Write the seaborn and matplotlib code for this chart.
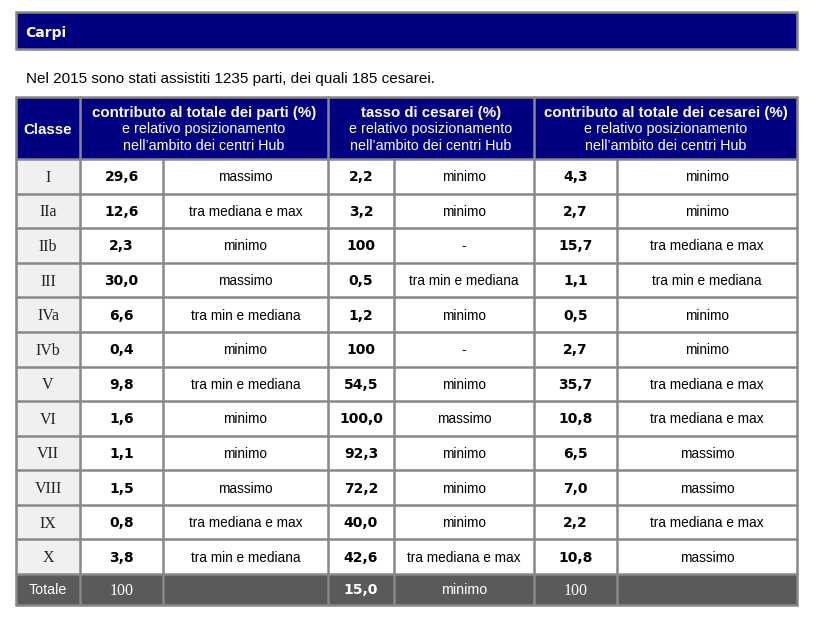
import matplotlib
matplotlib.use("Agg")
import matplotlib.pyplot as plt
import seaborn as sns
from matplotlib.patches import Rectangle

# ---- data ----
titolo = "Carpi"
sottotitolo = "Nel 2015 sono stati assistiti 1235 parti, dei quali 185 cesarei."
intestazioni = [
    "contributo al totale dei parti (%)",
    "tasso di cesarei (%)",
    "contributo al totale dei cesarei (%)",
]
sotto_intestazione = "e relativo posizionamento\nnell\u2019ambito dei centri Hub"
classi = ["I", "IIa", "IIb", "III", "IVa", "IVb", "V", "VI", "VII", "VIII", "IX", "X"]
parti = ["29,6", "12,6", "2,3", "30,0", "6,6", "0,4", "9,8", "1,6", "1,1", "1,5", "0,8", "3,8"]
parti_pos = ["massimo", "tra mediana e max", "minimo", "massimo", "tra min e mediana", "minimo",
             "tra min e mediana", "minimo", "minimo", "massimo", "tra mediana e max", "tra min e mediana"]
tasso = ["2,2", "3,2", "100", "0,5", "1,2", "100", "54,5", "100,0", "92,3", "72,2", "40,0", "42,6"]
tasso_pos = ["minimo", "minimo", "-", "tra min e mediana", "minimo", "-", "minimo", "massimo",
             "minimo", "minimo", "minimo", "tra mediana e max"]
cesarei = ["4,3", "2,7", "15,7", "1,1", "0,5", "2,7", "35,7", "10,8", "6,5", "7,0", "2,2", "10,8"]
cesarei_pos = ["minimo", "minimo", "tra mediana e max", "tra min e mediana", "minimo", "minimo",
               "tra mediana e max", "tra mediana e max", "massimo", "massimo", "tra mediana e max", "massimo"]
totale = ["Totale", "100", "", "15,0", "minimo", "100", ""]

sns.set_style("white")
plt.rcParams['font.family'] = ['DejaVu Sans']

NAVY = "#000080"
GRID = "#888888"
LIGHT = "#f0f0f0"
DARK = "#5a5a5a"
SANS = "Liberation Sans"
BOLD = "DejaVu Sans"
SERIF = "Liberation Serif"

fig = plt.figure(figsize=(8.16, 6.17), dpi=100)
ax = fig.add_axes([0, 0, 1, 1])
ax.set_xlim(0, 816)
ax.set_ylim(617, 0)
ax.axis("off")

# title bar
ax.add_patch(Rectangle((16, 12), 781, 37, facecolor=NAVY, edgecolor=GRID, lw=1.8))
ax.text(25, 31, titolo, color="white", fontsize=10, fontweight="bold", family=BOLD,
        va="center_baseline", ha="left")
ax.text(26, 78, sottotitolo, color="black", fontsize=10.95, family=SANS,
        va="center_baseline", ha="left")

# table geometry
xs = [16, 80, 163, 328, 394, 534, 617, 797]
y_head = 97
y_body = 159
row_h = (574 - 159) / 12
y_end = 605

# header
ax.add_patch(Rectangle((xs[0], y_head), xs[-1] - xs[0], y_body - y_head, facecolor=NAVY, lw=0))
ax.text((xs[0] + xs[1]) / 2, (y_head + y_body) / 2, "Classe", color="white", fontsize=10.8,
        fontweight="bold", family=SANS, ha="center", va="center_baseline")
for k, h in enumerate(intestazioni):
    cx = (xs[1 + 2 * k] + xs[3 + 2 * k]) / 2
    ax.text(cx, y_head + 14.5, h, color="white", fontsize=10.8, fontweight="bold", family=SANS,
            ha="center", va="center_baseline")
    for n, riga in enumerate(sotto_intestazione.split("\n")):
        ax.text(cx, y_head + 31 + 16.5 * n, riga, color="white", fontsize=10.3, family=SANS,
                ha="center", va="center_baseline")

# body rows
colonne = [classi, parti, parti_pos, tasso, tasso_pos, cesarei, cesarei_pos]
for i in range(len(classi)):
    y0 = y_body + i * row_h
    cy = y0 + row_h / 2 - 0.5
    for j, col in enumerate(colonne):
        fc = LIGHT if j == 0 else "white"
        ax.add_patch(Rectangle((xs[j], y0), xs[j + 1] - xs[j], row_h, facecolor=fc, lw=0))
        cx = (xs[j] + xs[j + 1]) / 2
        if j == 0:
            ax.text(cx, cy, col[i], fontsize=11.5, family=SERIF,
                    ha="center", va="center_baseline", color="#222222")
        elif j % 2 == 1:
            ax.text(cx, cy, col[i], fontsize=10, fontweight="bold",
                    family=BOLD, ha="center", va="center_baseline", color="black")
        else:
            ax.text(cx, cy, col[i], fontsize=9.8, family=SANS,
                    ha="center", va="center_baseline", color="black")

# totale row
ax.add_patch(Rectangle((xs[0], 574), xs[-1] - xs[0], y_end - 574, facecolor=DARK, lw=0))
cy = (574 + y_end) / 2 - 0.5
for j, t in enumerate(totale):
    cx = (xs[j] + xs[j + 1]) / 2
    if j == 3:
        ax.text(cx, cy, t, color="white", fontsize=10, fontweight="bold", family=BOLD,
                ha="center", va="center_baseline")
    elif j in (1, 5):
        ax.text(cx, cy, t, color="white", fontsize=11.5, family=SERIF, ha="center",
                va="center_baseline")
    else:
        ax.text(cx, cy, t, color="white", fontsize=10.3, family=SANS, ha="center",
                va="center_baseline")

# grid lines
for j, x in enumerate(xs):
    if j in (2, 4, 6):
        ax.plot([x, x], [y_body, y_end], color=GRID, lw=1.8)
    else:
        ax.plot([x, x], [y_head, y_end], color=GRID, lw=1.8)
for i in range(len(classi) + 1):
    y = y_body + i * row_h
    ax.plot([xs[0], xs[-1]], [y, y], color=GRID, lw=1.8)
ax.plot([xs[0], xs[-1]], [y_head, y_head], color=GRID, lw=1.8)
ax.plot([xs[0], xs[-1]], [y_end, y_end], color=GRID, lw=1.8)

fig.savefig("out.png", dpi=100, facecolor="white")
